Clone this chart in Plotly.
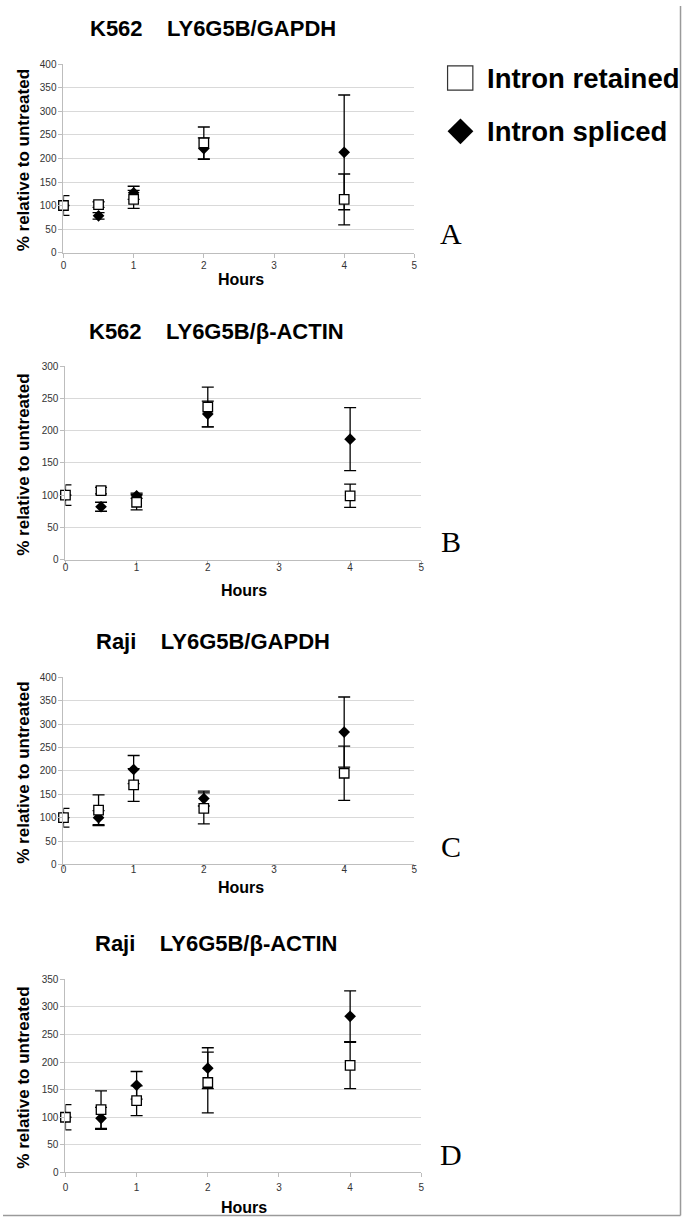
import plotly.graph_objects as go

W, H = 685, 1223

hours = [0, 0.5, 1, 2, 4]

# Panel A: K562 LY6G5B/GAPDH
retained_A = [100, 102, 113, 233, 113]
retained_A_err = [21, 6, 19, 34, 54]
spliced_A = [100, 78, 127, 221, 213]
spliced_A_err = [0, 7, 14, 23, 122]

# Panel B: K562 LY6G5B/beta-ACTIN
retained_B = [100, 107, 89, 237, 99]
retained_B_err = [16, 5, 12, 31, 18]
spliced_B = [100, 82, 99, 226, 187]
spliced_B_err = [0, 7, 4, 20, 49]

# Panel C: Raji LY6G5B/GAPDH
retained_C = [100, 116, 170, 120, 195]
retained_C_err = [20, 33, 35, 33, 58]
spliced_C = [100, 100, 203, 141, 283]
spliced_C_err = [0, 15, 30, 16, 75]

# Panel D: Raji LY6G5B/beta-ACTIN
retained_D = [100, 114, 130, 163, 194]
retained_D_err = [23, 34, 27, 55, 42]
spliced_D = [100, 98, 158, 189, 283]
spliced_D_err = [0, 20, 25, 37, 46]

titles = ["K562    LY6G5B/GAPDH", "K562    LY6G5B/\u03b2-ACTIN",
          "Raji    LY6G5B/GAPDH", "Raji    LY6G5B/\u03b2-ACTIN"]
panel_letters = ["A", "B", "C", "D"]
y_max = [400, 300, 400, 350]
x_ticks = [0, 1, 2, 3, 4, 5]
legend_names = ["Intron retained", "Intron spliced"]
y_title = "% relative to untreated"
x_title = "Hours"

panels = [
    (retained_A, retained_A_err, spliced_A, spliced_A_err),
    (retained_B, retained_B_err, spliced_B, spliced_B_err),
    (retained_C, retained_C_err, spliced_C, spliced_C_err),
    (retained_D, retained_D_err, spliced_D, spliced_D_err),
]

# layout in pixels: (x0, x1, ytop, ybottom)
boxes = [(61, 415, 59, 249), (63, 422, 364, 559), (61, 415, 678, 867), (63, 422, 983, 1178)]
title_pos = [(212, 23), (215, 329), (212, 642), (215, 947)]
hours_pos = [(240, 276), (243, 590), (240, 890), (243, 1213)]
letter_pos = [(452, 230), (452, 541), (452, 849), (452, 1160)]
standoffs = [-1, -6, -8, 2]

def px(x):
    return x / W

def py(y):
    return 1 - y / H

SANS = "Liberation Sans, Arial, sans-serif"
fig = go.Figure()
annotations = []
shapes = []

for i, (ret, ret_e, spl, spl_e) in enumerate(panels):
    n = "" if i == 0 else str(i + 1)
    xa, ya = "x" + n, "y" + n
    fig.add_trace(go.Scatter(
        x=hours, y=spl, mode="markers", name=legend_names[1], showlegend=False,
        xaxis=xa, yaxis=ya, cliponaxis=False,
        marker=dict(symbol="diamond", size=9, color="black", line=dict(width=0)),
        error_y=dict(type="data", array=spl_e, visible=True, color="black", thickness=1.3, width=6),
    ))
    fig.add_trace(go.Scatter(
        x=hours, y=ret, mode="markers", name=legend_names[0], showlegend=False,
        xaxis=xa, yaxis=ya, cliponaxis=False,
        marker=dict(symbol="square", size=9.5, color="white", line=dict(width=1.3, color="black")),
        error_y=dict(type="data", array=ret_e, visible=True, color="black", thickness=1.3, width=6),
    ))
    x0, x1, yt, yb = boxes[i]
    fig.layout["xaxis" + n] = dict(
        domain=[px(x0), px(x1)], range=[0, 5], tickvals=x_ticks, anchor=ya,
        showgrid=False, zeroline=False, showline=True, linecolor="#bdbdbd", linewidth=1,
        ticks="outside", ticklen=4, tickcolor="#bdbdbd", ticklabelstandoff=standoffs[i],
        tickfont=dict(family=SANS, size=10, color="#333333"), fixedrange=True,
    )
    fig.layout["yaxis" + n] = dict(
        domain=[py(yb), py(yt)], range=[0, y_max[i]], dtick=50, anchor=xa,
        showgrid=True, gridcolor="#d9d9d9", gridwidth=1, zeroline=False,
        showline=True, linecolor="#bdbdbd", linewidth=1,
        ticks="outside", ticklen=4, tickcolor="#bdbdbd",
        tickfont=dict(family=SANS, size=10, color="#333333"), fixedrange=True,
    )
    tx, ty = title_pos[i]
    annotations.append(dict(x=px(tx), y=py(ty), xref="paper", yref="paper", text="<b>%s</b>" % titles[i],
                            showarrow=False, xanchor="center", yanchor="middle",
                            font=dict(family=SANS, size=22, color="black")))
    hx, hy = hours_pos[i]
    annotations.append(dict(x=px(hx), y=py(hy), xref="paper", yref="paper", text="<b>%s</b>" % x_title,
                            showarrow=False, xanchor="center", yanchor="middle",
                            font=dict(family=SANS, size=16, color="black")))
    annotations.append(dict(x=px(21), y=py((yt + yb) / 2 + 2), xref="paper", yref="paper",
                            text="<b>%s</b>" % y_title, textangle=-90,
                            showarrow=False, xanchor="center", yanchor="middle",
                            font=dict(family=SANS, size=17, color="black")))
    lx, ly = letter_pos[i]
    annotations.append(dict(x=px(lx), y=py(ly), xref="paper", yref="paper", text=panel_letters[i],
                            showarrow=False, xanchor="center", yanchor="middle",
                            font=dict(family="Liberation Serif, Times New Roman, serif", size=30, color="black")))

# Legend (drawn as shapes + text)
shapes.append(dict(type="rect", xref="paper", yref="paper",
                   x0=px(448.5), x1=px(474), y0=py(85), y1=py(60.5),
                   line=dict(color="#333333", width=1.2), fillcolor="white"))
cx, cy, r = 461.5, 126.5, 13
shapes.append(dict(type="path", xref="paper", yref="paper",
                   path="M %f %f L %f %f L %f %f L %f %f Z" % (
                       px(cx), py(cy - r), px(cx + r), py(cy), px(cx), py(cy + r), px(cx - r), py(cy)),
                   line=dict(color="black", width=0), fillcolor="black"))
annotations.append(dict(x=px(486), y=py(73), xref="paper", yref="paper", text="<b>%s</b>" % legend_names[0],
                        showarrow=False, xanchor="left", yanchor="middle",
                        font=dict(family=SANS, size=27.5, color="black")))
annotations.append(dict(x=px(486), y=py(127), xref="paper", yref="paper", text="<b>%s</b>" % legend_names[1],
                        showarrow=False, xanchor="left", yanchor="middle",
                        font=dict(family=SANS, size=27.5, color="black")))

# page border (right & bottom)
shapes.append(dict(type="line", xref="paper", yref="paper", x0=px(683.5), x1=px(683.5), y0=py(1221.5), y1=1,
                   line=dict(color="#9a9a9a", width=1.5)))
shapes.append(dict(type="line", xref="paper", yref="paper", x0=0, x1=px(683.5), y0=py(1221.5), y1=py(1221.5),
                   line=dict(color="#9a9a9a", width=1.5)))

fig.update_layout(
    width=W, height=H, margin=dict(l=0, r=0, t=0, b=0),
    paper_bgcolor="white", plot_bgcolor="white",
    showlegend=False, annotations=annotations, shapes=shapes,
)

fig.write_html(
    "out.html", config={"displayModeBar": False},
    post_script=("document.documentElement.style.margin='0';document.body.style.margin='0';"
                 "document.body.style.overflow='hidden';"
                 "var d=document.getElementById('{plot_id}');d.style.position='fixed';"
                 "d.style.top='0';d.style.left='0';"),
)
